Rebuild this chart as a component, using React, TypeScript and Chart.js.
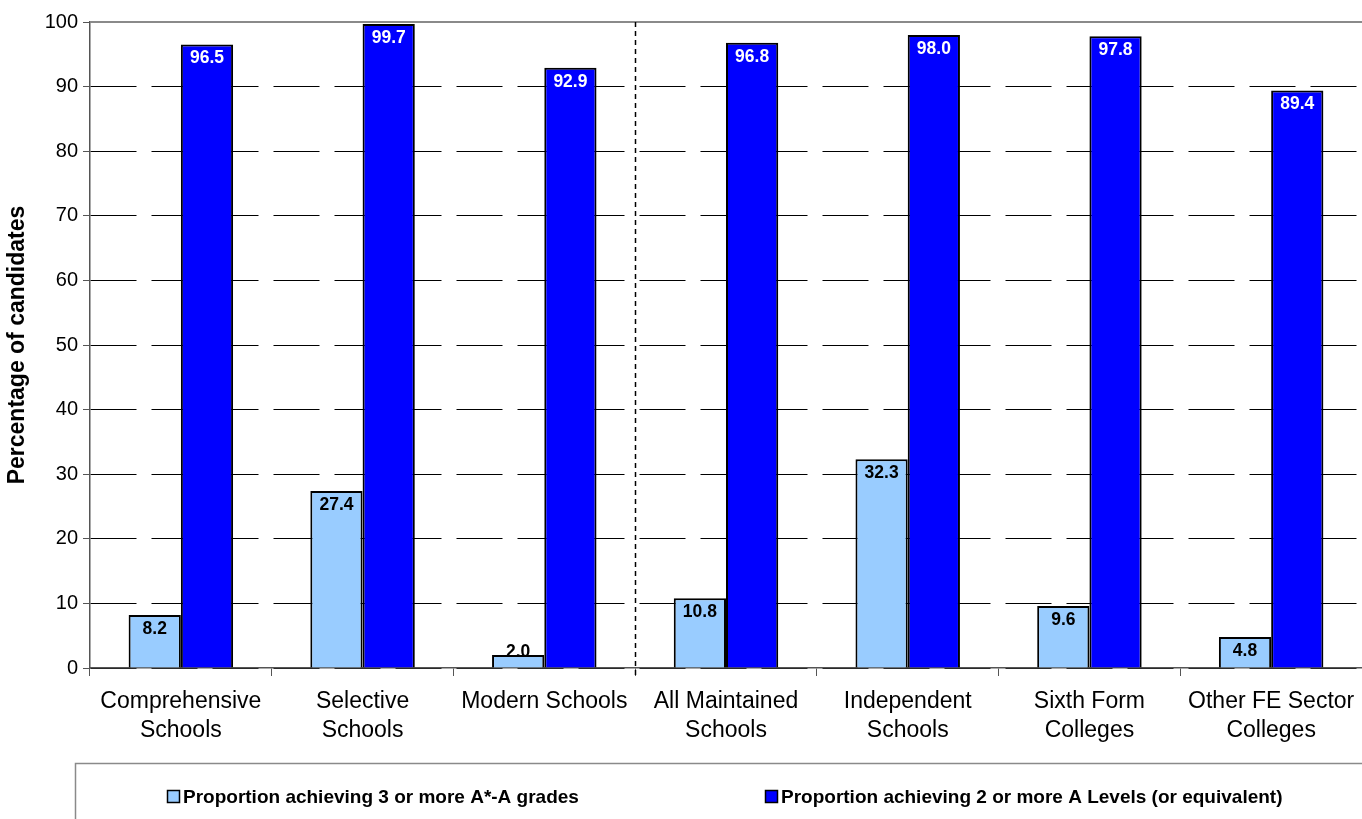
import React, { useEffect, useRef } from "react";
import { Chart, registerables } from "chart.js";

Chart.register(...registerables);

const categories: (string | string[])[] = [
  ["Comprehensive", "Schools"],
  ["Selective", "Schools"],
  "Modern Schools",
  ["All Maintained", "Schools"],
  ["Independent", "Schools"],
  ["Sixth Form", "Colleges"],
  ["Other FE Sector", "Colleges"],
];

const seriesNames = [
  "Proportion achieving 3 or more A*-A grades",
  "Proportion achieving 2 or more A Levels (or equivalent)",
];

const threeOrMoreAStarA = [8.2, 27.4, 2.0, 10.8, 32.3, 9.6, 4.8];
const twoOrMoreALevels = [96.5, 99.7, 92.9, 96.8, 98.0, 97.8, 89.4];

const yTicks = [0, 10, 20, 30, 40, 50, 60, 70, 80, 90, 100];
const dividerAfterIndex = 2;

const FONT = "'Liberation Sans', Arial, sans-serif";
const W = 1362;
const H = 819;

const overlayPlugin = {
  id: "overlay",
  afterDatasetsDraw(chart: any) {
    const ctx = chart.ctx;
    const area = chart.chartArea;
    const xs = chart.scales.x;
    ctx.save();
    // top border of plot
    ctx.strokeStyle = "#8a8a8a";
    ctx.lineWidth = 2;
    ctx.beginPath();
    ctx.moveTo(area.left, area.top);
    ctx.lineTo(area.right, area.top);
    ctx.stroke();

    // dashed divider
    const dx =
      (xs.getPixelForValue(dividerAfterIndex) + xs.getPixelForValue(dividerAfterIndex + 1)) / 2;
    ctx.strokeStyle = "#000";
    ctx.lineWidth = 1.5;
    ctx.setLineDash([5, 4]);
    ctx.beginPath();
    ctx.moveTo(Math.round(dx) + 0.5, area.top);
    ctx.lineTo(Math.round(dx) + 0.5, area.bottom + 8);
    ctx.stroke();
    ctx.setLineDash([]);

    // data labels
    ctx.font = `bold 17.5px ${FONT}`;
    ctx.textAlign = "center";
    ctx.textBaseline = "middle";
    chart.data.datasets.forEach((ds: any, di: number) => {
      const meta = chart.getDatasetMeta(di);
      meta.data.forEach((bar: any, i: number) => {
        const v = ds.data[i];
        const h = bar.base - bar.y;
        const y = h > 26 ? bar.y + 14 : bar.y - 3;
        ctx.fillStyle = di === 0 ? "#000" : "#fff";
        ctx.fillText(v.toFixed(1), bar.x, y);
      });
    });
    ctx.restore();
  },
  afterDraw(chart: any) {
    const ctx = chart.ctx;
    ctx.save();
    // legend box
    ctx.strokeStyle = "#8a8a8a";
    ctx.lineWidth = 1.5;
    ctx.strokeRect(75.5, 763.5, 1400, 100);
    const items = [
      { x: 167, ds: chart.data.datasets[0] },
      { x: 765, ds: chart.data.datasets[1] },
    ];
    ctx.font = `bold 19px ${FONT}`;
    ctx.textAlign = "left";
    ctx.textBaseline = "middle";
    items.forEach((it) => {
      ctx.fillStyle = it.ds.backgroundColor;
      ctx.fillRect(it.x, 790, 13, 13);
      ctx.strokeStyle = "#000";
      ctx.lineWidth = 1.5;
      ctx.strokeRect(it.x + 0.5, 790.5, 12, 12);
      ctx.fillStyle = "#000";
      ctx.fillText(it.ds.label, it.x + 16, 797.5);
    });
    ctx.restore();
  },
};

export default function App() {
  const ref = useRef<HTMLCanvasElement | null>(null);
  useEffect(() => {
    if (!ref.current) return;
    const chart = new Chart(ref.current, {
      type: "bar",
      data: {
        labels: categories,
        datasets: [
          {
            label: seriesNames[0],
            data: threeOrMoreAStarA,
            backgroundColor: "#99CCFF",
            borderColor: "#000",
            borderWidth: 2,
            categoryPercentage: 0.575,
            barPercentage: 1,
          },
          {
            label: seriesNames[1],
            data: twoOrMoreALevels,
            backgroundColor: "#0000FF",
            borderColor: "#000",
            borderWidth: 2,
            categoryPercentage: 0.575,
            barPercentage: 1,
          },
        ],
      },
      options: {
        animation: false,
        responsive: false,
        maintainAspectRatio: false,
        layout: { padding: { top: 22, right: 0, left: 0, bottom: 0 } },
        plugins: { legend: { display: false }, tooltip: { enabled: false } },
        scales: {
          x: {
            grid: {
              drawOnChartArea: false,
              drawTicks: true,
              tickLength: 8,
              color: "#555",
              offset: true,
            },
            border: { color: "#555", width: 1.5 },
            ticks: {
              font: { family: FONT, size: 23, lineHeight: 1.26 },
              color: "#000",
              padding: 11,
              maxRotation: 0,
              autoSkip: false,
            },
            afterFit: (scale: any) => {
              scale.height = 151;
              scale.paddingLeft = 0;
              scale.paddingRight = 0;
            },
          },
          y: {
            min: 0,
            max: 100,
            afterBuildTicks: (scale: any) => {
              scale.ticks = yTicks.map((v) => ({ value: v }));
            },
            ticks: {
              font: { family: FONT, size: 20 },
              color: "#000",
              padding: 5,
            },
            grid: {
              color: (c: any) => (c.tick && c.tick.value === 100 ? "rgba(0,0,0,0)" : "#000"),
              tickColor: "#555",
              tickBorderDash: [],
              tickLength: 7,
              lineWidth: 1,
            },
            border: { color: "#555", width: 1.5, dash: [46, 15] },
            title: {
              display: true,
              text: "Percentage of candidates",
              font: { family: FONT, size: 23, weight: "bold" },
              color: "#000",
              padding: { top: 4, bottom: 0 },
            },
            afterFit: (scale: any) => {
              scale.width = 90;
              scale.paddingTop = 0;
              scale.paddingBottom = 0;
            },
          },
        },
      },
      plugins: [overlayPlugin],
    } as any);
    return () => chart.destroy();
  }, []);
  return (
    <div style={{ position: "fixed", left: 0, top: 0, width: W, height: H, background: "#fff" }}>
      <canvas ref={ref} width={W} height={H} style={{ width: W, height: H, display: "block" }} />
    </div>
  );
}
